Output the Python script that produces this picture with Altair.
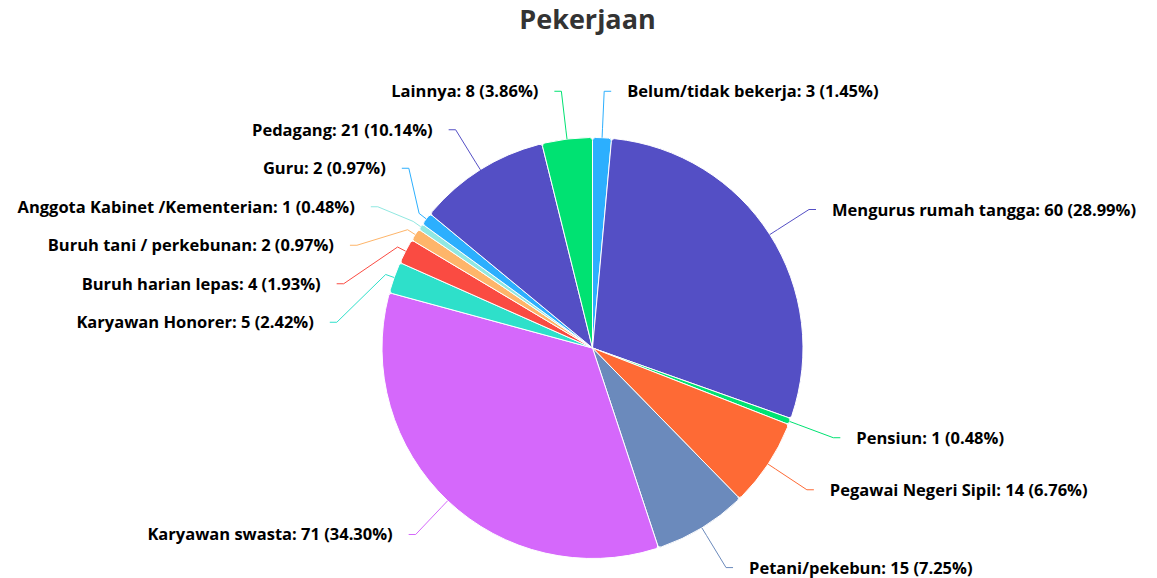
import math
import numpy as np
import pandas as pd
import altair as alt

# ---------------- data ----------------
names = [
    "Belum/tidak bekerja", "Mengurus rumah tangga", "Pensiun",
    "Pegawai Negeri Sipil", "Petani/pekebun", "Karyawan swasta",
    "Karyawan Honorer", "Buruh harian lepas", "Buruh tani / perkebunan",
    "Anggota Kabinet /Kementerian", "Guru", "Pedagang", "Lainnya",
]
values = [3, 60, 1, 14, 15, 71, 5, 4, 2, 1, 2, 21, 8]
colors = [
    "#2caffe", "#544fc5", "#00e272", "#fe6a35", "#6b8abc", "#d568fb",
    "#2ee0ca", "#fa4b42", "#feb56a", "#91e8e1", "#2caffe", "#544fc5", "#00e272",
]

# ---------------- layout constants ----------------
W, H_TOTAL = 1157, 578
PAD_TOP = 50
H = H_TOTAL - PAD_TOP
CX, CY = 592.5, 348.0        # pie centre (page pixels)
R = 210.5                    # pie radius
LABEL_R = 257.0              # radius of natural label points
BREAK = 9.0                  # connector break just outside the slice
CROOK = 7.0                  # short horizontal connector piece
TEXT_GAP = 16.0              # gap between connector end and text
SLOT = 38.5                  # vertical slot per label
TOP_MIN = 91.25              # highest allowed label centre
FONT = "Open Sans"

total = sum(values)
cum = np.cumsum([0] + values)
mid = (cum[:-1] + cum[1:]) / 2.0 / total * 2 * math.pi
labels = [f"{n}: {v} ({v / total * 100:.2f}%)" for n, v in zip(names, values)]

nat_x = CX + LABEL_R * np.sin(mid)
nat_y = CY - LABEL_R * np.cos(mid)
side = np.where(np.sin(mid) < 0, -1, 1)


def distribute(idx):
    """Spread labels of one side vertically so they do not overlap."""
    order = sorted(idx, key=lambda i: nat_y[i])
    clusters = [[i] for i in order]
    while True:
        pos, spans = {}, []
        for c in clusters:
            ts = [nat_y[i] for i in c]
            centre = (min(ts) + max(ts)) / 2
            start = max(centre - (len(c) - 1) * SLOT / 2, TOP_MIN)
            for k, i in enumerate(c):
                pos[i] = start + k * SLOT
            spans.append((start, start + (len(c) - 1) * SLOT))
        new, merged = [clusters[0]], False
        for j in range(1, len(clusters)):
            if spans[j][0] - spans[j - 1][1] < SLOT - 1e-9:
                new[-1] = new[-1] + clusters[j]
                merged = True
            else:
                new.append(clusters[j])
        clusters = new
        if not merged:
            return pos


lab_y = np.zeros(len(values))
for s in (-1, 1):
    p = distribute([i for i in range(len(values)) if side[i] == s])
    for i, y in p.items():
        lab_y[i] = y

crook_x = np.where(
    np.abs(lab_y - nat_y) < 3,
    nat_x,
    CX + side * np.sqrt(np.clip(LABEL_R ** 2 - (lab_y - CY) ** 2, 0, None)),
)
lab_x = crook_x + side * CROOK
text_x = lab_x + side * TEXT_GAP

# ---------------- tables ----------------
pie_df = pd.DataFrame({"name": names, "value": values, "idx": range(len(values))})

text_df = pd.DataFrame({
    "name": names,
    "label": labels,
    "x": text_x,
    "y": lab_y - PAD_TOP,
    "side": side,
})

rows = []
for i in range(len(values)):
    a = mid[i]
    pts = [
        (lab_x[i], lab_y[i]),
        (crook_x[i], lab_y[i]),
        (CX + (R + BREAK) * math.sin(a), CY - (R + BREAK) * math.cos(a)),
        (CX + R * math.sin(a), CY - R * math.cos(a)),
    ]
    for k, (x, y) in enumerate(pts):
        rows.append({"name": names[i], "pt": k, "x": x, "y": y - PAD_TOP})
line_df = pd.DataFrame(rows)

# ---------------- chart ----------------
color = alt.Color("name:N", scale=alt.Scale(domain=names, range=colors), legend=None)
xs = alt.Scale(domain=[0, W], nice=False, zero=False)
ys = alt.Scale(domain=[0, H], nice=False, zero=False, reverse=True)

pie = alt.Chart(pie_df).mark_arc(
    outerRadius=R, cornerRadius=3, stroke="white", strokeWidth=1
).encode(
    theta=alt.Theta("value:Q", stack=True),
    order=alt.Order("idx:Q", sort="ascending"),
    color=color,
    x=alt.value(CX),
    y=alt.value(CY - PAD_TOP),
)

connectors = alt.Chart(line_df).mark_line(strokeWidth=1).encode(
    x=alt.X("x:Q", scale=xs, axis=None),
    y=alt.Y("y:Q", scale=ys, axis=None),
    detail="name:N",
    order=alt.Order("pt:Q"),
    color=color,
)

text_common = dict(font=FONT, fontSize=16.5, fontWeight="bold", color="#000000",
                   baseline="middle", dy=1)
text_right = alt.Chart(text_df).transform_filter("datum.side > 0").mark_text(
    align="left", **text_common
).encode(
    x=alt.X("x:Q", scale=xs, axis=None),
    y=alt.Y("y:Q", scale=ys, axis=None),
    text="label:N",
)
text_left = alt.Chart(text_df).transform_filter("datum.side < 0").mark_text(
    align="right", **text_common
).encode(
    x=alt.X("x:Q", scale=xs, axis=None),
    y=alt.Y("y:Q", scale=ys, axis=None),
    text="label:N",
)

chart = alt.layer(pie, connectors, text_right, text_left).properties(
    width=W,
    height=H,
    padding={"top": PAD_TOP, "left": 0, "right": 0, "bottom": 0},
    autosize=alt.AutoSizeParams(type="none"),
    title=alt.TitleParams(
        "Pekerjaan", font=FONT, fontSize=27, fontWeight="bold", color="#333333",
        anchor="middle", dx=9, offset=15,
    ),
).configure_view(stroke=None)

chart.save("out.html", embed_options={"renderer": "svg", "actions": False})
